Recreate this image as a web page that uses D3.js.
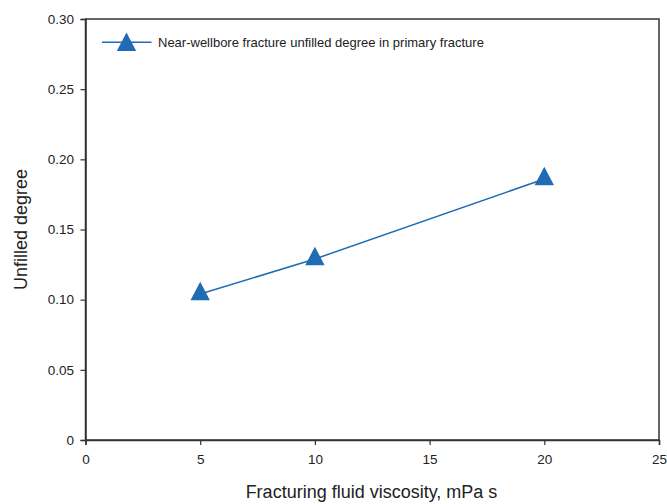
<!DOCTYPE html>
<html>
<head>
<meta charset="utf-8">
<script src="https://cdn.jsdelivr.net/npm/d3@7"></script>
<style>
  html, body { margin: 0; padding: 0; background: #fff; }
  svg { display: block; font-family: "Liberation Sans", Arial, sans-serif; }
</style>
</head>
<body>
<svg id="chart" width="667" height="504"></svg>
<script>
// Fracturing fluid viscosity (mPa s) vs. unfilled degree
const viscosity = [5, 10, 20];
const unfilled = [0.104, 0.129, 0.186];
const xTicks = [0, 5, 10, 15, 20, 25];
const yTicks = [0, 0.05, 0.10, 0.15, 0.20, 0.25, 0.30];
const seriesName = "Near-wellbore fracture unfilled degree in primary fracture";

const svg = d3.select("#chart");
const plotLeft = 85.5, plotRight = 659, plotTop = 19, plotBottom = 440;
const blue = "#1f6bb4";
const axisColor = "#333";

const x = d3.scaleLinear().domain([0, 25]).range([plotLeft, plotRight]);
const y = d3.scaleLinear().domain([0, 0.30]).range([plotBottom, plotTop]);

// Frame (top and right edges)
svg.append("rect")
  .attr("x", plotLeft).attr("y", plotTop)
  .attr("width", plotRight - plotLeft).attr("height", plotBottom - plotTop)
  .attr("fill", "none").attr("stroke", axisColor).attr("stroke-width", 1.5);

const xAxis = svg.append("g")
  .attr("transform", `translate(0,${plotBottom})`)
  .call(d3.axisBottom(x).tickValues(xTicks).tickSize(5).tickPadding(9).tickFormat(d3.format("d")));
const yAxis = svg.append("g")
  .attr("transform", `translate(${plotLeft},0)`)
  .call(d3.axisLeft(y).tickValues(yTicks).tickSize(5).tickPadding(6.5)
    .tickFormat(d => d === 0 ? "0" : d3.format(".2f")(d)));

[xAxis, yAxis].forEach(g => {
  g.select(".domain").attr("stroke", axisColor).attr("stroke-width", 1.5);
  g.selectAll(".tick line").attr("stroke", axisColor).attr("stroke-width", 1.2);
  g.selectAll(".tick text").attr("fill", "#222").style("font-size", "13.5px")
    .style("font-family", "'Liberation Sans', Arial, sans-serif");
});

// Axis titles
svg.append("text")
  .attr("x", 371.5).attr("y", 498)
  .attr("text-anchor", "middle").attr("fill", "#222")
  .style("font-size", "18px")
  .text("Fracturing fluid viscosity, mPa s");
svg.append("text")
  .attr("transform", `translate(27,${(plotTop + plotBottom) / 2}) rotate(-90)`)
  .attr("text-anchor", "middle").attr("fill", "#222")
  .style("font-size", "18px")
  .text("Unfilled degree");

// Series line and markers
const pts = viscosity.map((v, i) => [v, unfilled[i]]);
svg.append("path")
  .datum(pts)
  .attr("fill", "none").attr("stroke", blue).attr("stroke-width", 1.5)
  .attr("d", d3.line().x(d => x(d[0])).y(d => y(d[1])));

// Filled triangle marker, centroid at origin
const triPath = "M0,-12.3L9.7,6.2L-9.7,6.2Z";
svg.selectAll(".marker")
  .data(pts)
  .join("path")
  .attr("class", "marker")
  .attr("transform", d => `translate(${x(d[0])},${y(d[1])})`)
  .attr("d", triPath)
  .attr("fill", blue);

// Legend
const ly = 42.3;
svg.append("line")
  .attr("x1", 102).attr("x2", 151.5).attr("y1", ly).attr("y2", ly)
  .attr("stroke", blue).attr("stroke-width", 1.5);
svg.append("path")
  .attr("transform", `translate(126.5,${ly + 2.5})`)
  .attr("d", triPath).attr("fill", blue);
svg.append("text")
  .attr("x", 158).attr("y", ly + 4.7)
  .attr("fill", "#222").style("font-size", "13px")
  .text(seriesName);
</script>
</body>
</html>
